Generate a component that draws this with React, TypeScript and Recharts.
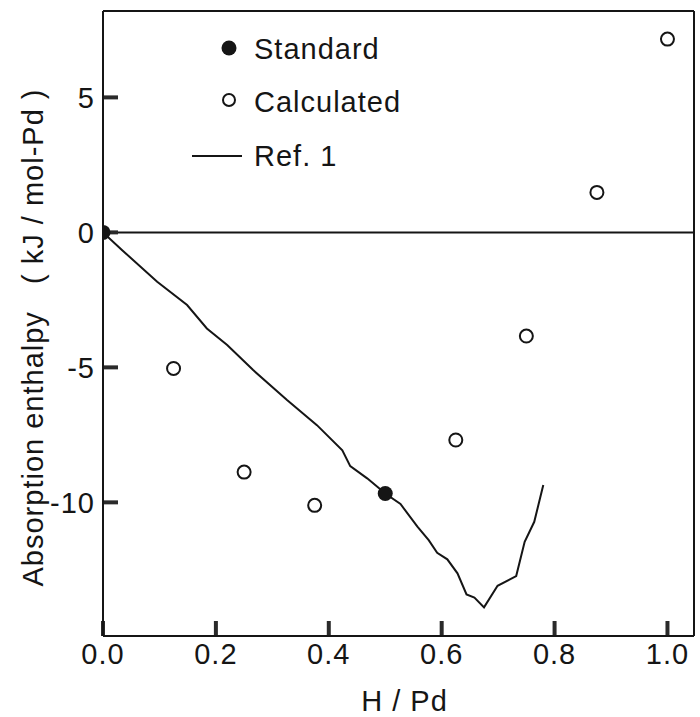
import React from 'react';
import { ComposedChart, Line, Scatter, XAxis, YAxis, ReferenceLine, Legend, Label } from 'recharts';

const FONT = '"Liberation Sans", Arial, Helvetica, sans-serif';

// Ref. 1 curve (H/Pd, kJ/mol-Pd)
const refX = [0, 0.034, 0.096, 0.149, 0.184, 0.22, 0.266, 0.326, 0.379, 0.424, 0.438, 0.468, 0.486, 0.5, 0.527, 0.557, 0.577, 0.592, 0.61, 0.628, 0.644, 0.658, 0.675, 0.699, 0.732, 0.747, 0.764, 0.78];
const refY = [0, -0.66, -1.83, -2.69, -3.56, -4.17, -5.1, -6.21, -7.14, -8.07, -8.66, -9.11, -9.42, -9.67, -10.06, -10.9, -11.4, -11.87, -12.11, -12.63, -13.41, -13.53, -13.89, -13.09, -12.73, -11.46, -10.72, -9.36];

// Standard points
const standardX = [0, 0.5];
const standardY = [0, -9.67];

// Calculated points
const calcX = [0.125, 0.25, 0.375, 0.625, 0.75, 0.875, 1.0];
const calcY = [-5.04, -8.88, -10.11, -7.69, -3.84, 1.48, 7.16];

const xTicks = [0, 0.2, 0.4, 0.6, 0.8, 1.0];
const yTicks = [-10, -5, 0, 5];
const xDomain = [0, 1.047];
const yDomain = [-14.95, 8.2];
// inward tick lengths in data units (~15 px)
const xTickLen = 0.556;
const yTickLen = 0.0266;

const legendLabels = ['Standard', 'Calculated', 'Ref. 1'];
const xAxisTitle = 'H / Pd';
const yAxisTitle = 'Absorption enthalpy\u00A0\u00A0\u00A0( kJ / mol-Pd )';

const refData = refX.map((x, i) => ({ x, y: refY[i] }));
const standardData = standardX.map((x, i) => ({ x, y: standardY[i] }));
const calcData = calcX.map((x, i) => ({ x, y: calcY[i] }));

const INK = '#151515';
const TICK_INK = '#2a2a2a';
const textStyle: any = { fill: INK, fontSize: 29, fontFamily: FONT, letterSpacing: 1 };

const FilledDot = (p: any) => <circle cx={p.cx} cy={p.cy} r={7.5} fill={INK} />;
const OpenDot = (p: any) => <circle cx={p.cx} cy={p.cy} r={6.5} fill="#fff" stroke={INK} strokeWidth={2} />;

const LegendBox = () => (
  <svg width={260} height={160} style={{ display: 'block', overflow: 'visible' }}>
    <circle cx={49} cy={28} r={7.5} fill={INK} />
    <text x={74} y={38.5} {...textStyle}>{legendLabels[0]}</text>
    <circle cx={49} cy={80} r={6} fill="#fff" stroke={INK} strokeWidth={2} />
    <text x={74} y={92} {...textStyle}>{legendLabels[1]}</text>
    <line x1={12} x2={62} y1={136} y2={136} stroke={INK} strokeWidth={2} />
    <text x={74} y={145.5} {...textStyle}>{legendLabels[2]}</text>
  </svg>
);

export default function App() {
  return (
    <div style={{ position: 'absolute', left: 0, top: 0, width: 700, height: 717, background: '#fff' }}>
      <ComposedChart width={700} height={717} margin={{ top: 11, right: 6, bottom: 0, left: 0 }}>
        <XAxis
          type="number"
          dataKey="x"
          domain={xDomain}
          ticks={xTicks}
          interval={0}
          allowDataOverflow
          tickFormatter={(v: number) => v.toFixed(1)}
          tickSize={0}
          tickMargin={7}
          height={81}
          axisLine={{ stroke: INK, strokeWidth: 2 }}
          tickLine={false}
          tick={textStyle}
        >
          <Label
            content={(props: any) => {
              const vb = props.viewBox || { x: 103, y: 636, width: 591, height: 81 };
              return (
                <text x={vb.x + vb.width / 2 + 6} y={vb.y + 75} textAnchor="middle" {...textStyle}>
                  {xAxisTitle}
                </text>
              );
            }}
          />
        </XAxis>
        <YAxis
          type="number"
          dataKey="y"
          domain={yDomain}
          ticks={yTicks}
          interval={0}
          allowDataOverflow
          width={103}
          tickSize={0}
          tickMargin={8}
          axisLine={{ stroke: INK, strokeWidth: 2 }}
          tickLine={false}
          tick={textStyle}
        >
          <Label
            content={(props: any) => {
              const vb = props.viewBox || { x: 0, y: 11, width: 103, height: 625 };
              const cx = vb.x + 43;
              const cy = vb.y + vb.height / 2 + 14;
              return (
                <text x={cx} y={cy} textAnchor="middle" transform={`rotate(-90, ${cx}, ${cy})`} {...textStyle}>
                  {yAxisTitle}
                </text>
              );
            }}
          />
        </YAxis>
        <ReferenceLine y={yDomain[1]} stroke={INK} strokeWidth={2} />
        <ReferenceLine x={xDomain[1]} stroke={INK} strokeWidth={2} />
        <ReferenceLine y={0} stroke={INK} strokeWidth={2} />
        {xTicks.map((t) => (
          <ReferenceLine
            key={`xt${t}`}
            ifOverflow="visible"
            segment={[{ x: t, y: yDomain[0] }, { x: t, y: yDomain[0] + xTickLen }]}
            stroke={TICK_INK}
            strokeWidth={4}
          />
        ))}
        {yTicks.map((t) => (
          <ReferenceLine
            key={`yt${t}`}
            ifOverflow="visible"
            segment={[{ x: xDomain[0], y: t }, { x: xDomain[0] + yTickLen, y: t }]}
            stroke={TICK_INK}
            strokeWidth={4}
          />
        ))}
        <Line data={refData} dataKey="y" type="linear" stroke={INK} strokeWidth={2} dot={false} activeDot={false} isAnimationActive={false} legendType="none" />
        <Scatter data={calcData} dataKey="y" shape={OpenDot} isAnimationActive={false} />
        <Scatter data={standardData} dataKey="y" shape={FilledDot} isAnimationActive={false} />
        <Legend
          layout="horizontal"
          verticalAlign="middle"
          align="center"
          content={() => <LegendBox />}
          wrapperStyle={{ position: 'absolute', left: 180, top: 20, width: 260, height: 160 }}
        />
      </ComposedChart>
    </div>
  );
}
